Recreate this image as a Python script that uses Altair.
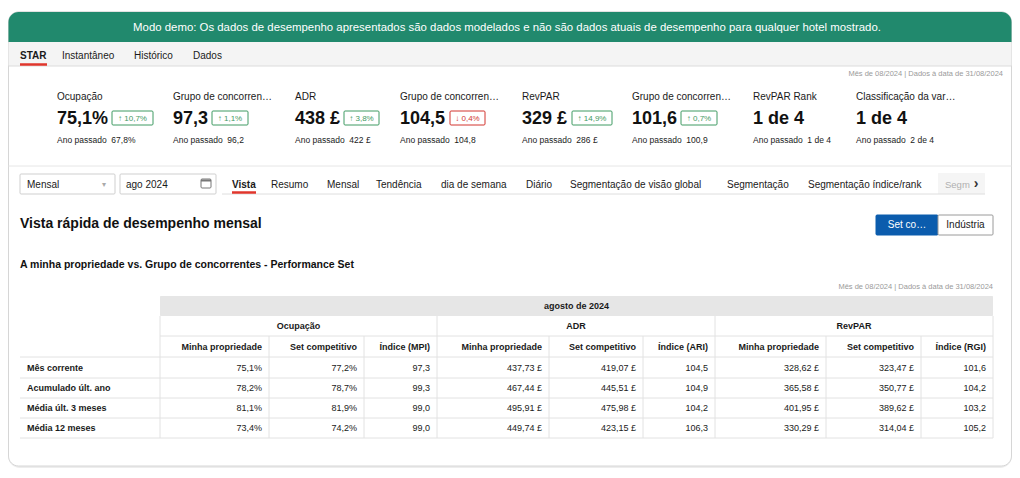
import altair as alt
import pandas as pd

# ------------------------------------------------------------------ data
banner_text = ("Modo demo: Os dados de desempenho apresentados são dados modelados e não são "
               "dados atuais de desempenho para qualquer hotel mostrado.")
top_tabs = ["STAR", "Instantâneo", "Histórico", "Dados"]
date_note = "Mês de 08/2024 | Dados à data de 31/08/2024"

kpi_labels = ["Ocupação", "Grupo de concorren…", "ADR", "Grupo de concorren…",
              "RevPAR", "Grupo de concorren…", "RevPAR Rank", "Classificação da var…"]
kpi_values = ["75,1%", "97,3", "438 £", "104,5", "329 £", "101,6", "1 de 4", "1 de 4"]
kpi_change = [10.7, 1.1, 3.8, -0.4, 14.9, 0.7]
kpi_last_year = ["67,8%", "96,2", "422 £", "104,8", "286 £", "100,9", "1 de 4", "2 de 4"]

period_options = ["Mensal", "ago 2024"]
view_tabs = ["Vista", "Resumo", "Mensal", "Tendência", "dia de semana", "Diário",
             "Segmentação de visão global", "Segmentação", "Segmentação índice/rank", "Segm"]
page_title = "Vista rápida de desempenho mensal"
toggle_labels = ["Set co…", "Indústria"]
table_title = "A minha propriedade vs. Grupo de concorrentes - Performance Set"
table_period = "agosto de 2024"
metric_groups = ["Ocupação", "ADR", "RevPAR"]
column_labels = ["Minha propriedade", "Set competitivo", "Índice (MPI)",
                 "Minha propriedade", "Set competitivo", "Índice (ARI)",
                 "Minha propriedade", "Set competitivo", "Índice (RGI)"]
row_labels = ["Mês corrente", "Acumulado últ. ano", "Média últ. 3 meses", "Média 12 meses"]

occ_mine = [75.1, 78.2, 81.1, 73.4]
occ_comp = [77.2, 78.7, 81.9, 74.2]
occ_index = [97.3, 99.3, 99.0, 99.0]
adr_mine = [437.73, 467.44, 495.91, 449.74]
adr_comp = [419.07, 445.51, 475.98, 423.15]
adr_index = [104.5, 104.9, 104.2, 106.3]
rev_mine = [328.62, 365.58, 401.95, 330.29]
rev_comp = [323.47, 350.77, 389.62, 314.04]
rev_index = [101.6, 104.2, 103.2, 105.2]

# ------------------------------------------------------------------ layout / style
FONT = "Liberation Sans"
GREEN = "#21896d"
DARK = "#1a1a1a"
GRID = "#e2e2e2"

kpi_x = [57, 173, 295, 400, 522, 632, 753, 856]
badge_x = [(112, 153), (212, 248), (344, 379), (450, 485), (572, 612), (681, 717)]
top_tab_x = [20, 62, 134, 193]
view_tab_x = [232, 271, 327, 376, 441, 526, 570, 727, 808, 945]
col_edges = [160, 269, 364, 437, 549, 643, 715, 826, 921, 993]
row_edges = [357, 378, 398, 418, 438]

fmt_num = lambda v, d: f"{v:.{d}f}".replace(".", ",")
table_cols = [
    [fmt_num(v, 1) + "%" for v in occ_mine], [fmt_num(v, 1) + "%" for v in occ_comp],
    [fmt_num(v, 1) for v in occ_index],
    [fmt_num(v, 2) + " £" for v in adr_mine], [fmt_num(v, 2) + " £" for v in adr_comp],
    [fmt_num(v, 1) for v in adr_index],
    [fmt_num(v, 2) + " £" for v in rev_mine], [fmt_num(v, 2) + " £" for v in rev_comp],
    [fmt_num(v, 1) for v in rev_index],
]

X = alt.Scale(domain=[8, 1012], nice=False, zero=False)
Y = alt.Scale(domain=[8, 470], nice=False, zero=False, reverse=True)

# ------------------------------------------------------------------ rectangles
rects = []
def rect(x, x2, y, y2, fill, stroke="#ffffff", sw=0):
    rects.append(dict(x=x, x2=x2, y=y, y2=y2, fill=fill, stroke=stroke, sw=sw))

rect(8.5, 1011.5, 42, 66, "#f4f4f4")                 # tab bar
rect(20, 115, 174, 194, "#ffffff", "#cfcfcf", 1)     # dropdown
rect(120, 216, 174, 194, "#ffffff", "#cfcfcf", 1)    # date box
rect(201, 211, 179, 188, "#ffffff", "#777777", 1)    # calendar icon
rect(938, 985, 173, 194, "#f5f5f5")                  # fade behind "Segm"
rect(876, 938, 215, 235, "#0b5cad", "#0b5cad", 1)    # toggle on
rect(938, 993, 215, 235, "#ffffff", "#9a9a9a", 1)    # toggle off
rect(160, 993, 296, 316, "#e6e6e6")                  # table period band
for i, ch in enumerate(kpi_change):
    col = "#3f9a63" if ch >= 0 else "#d2352e"
    rect(badge_x[i][0], badge_x[i][1], 111, 125, "#ffffff", col, 1)
rect_df = pd.DataFrame(rects)

def enc_rect(ch):
    return ch.encode(
        x=alt.X("x:Q", scale=X, axis=None), x2="x2:Q",
        y=alt.Y("y:Q", scale=Y, axis=None), y2="y2:Q",
        fill=alt.Fill("fill:N", scale=None),
        stroke=alt.Stroke("stroke:N", scale=None),
        strokeWidth=alt.StrokeWidth("sw:Q", scale=None),
    )

shadow = enc_rect(alt.Chart(pd.DataFrame([dict(x=8, x2=1012, y=11, y2=468, fill="#ededed", stroke="#ededed", sw=0)]))
                  .mark_rect(cornerRadius=12))
card = enc_rect(alt.Chart(pd.DataFrame([dict(x=8.5, x2=1011.5, y=12, y2=466, fill="#ffffff", stroke="#d6d6d6", sw=1)]))
                .mark_rect(cornerRadius=10))
banner = enc_rect(alt.Chart(pd.DataFrame([dict(x=8.5, x2=1011.5, y=12, y2=42, fill=GREEN, stroke=GREEN, sw=0)]))
                  .mark_rect(cornerRadiusTopLeft=10, cornerRadiusTopRight=10))
boxes = enc_rect(alt.Chart(rect_df).mark_rect(cornerRadius=1))

# ------------------------------------------------------------------ rules
rules = []
def rule(x, x2, y, y2, color=GRID, sw=1):
    rules.append(dict(x=x, x2=x2, y=y, y2=y2, color=color, sw=sw))

rule(8.5, 1011.5, 66, 66, "#dcdcdc")
rule(8.5, 1011.5, 166, 166, "#e6e6e6")
rule(20, 47, 64.5, 64.5, "#e0362c", 2.5)             # STAR underline
rule(222, 985, 194, 194, "#dedede")
rule(232, 256, 192.5, 192.5, "#e0362c", 2.5)         # Vista underline
rule(201, 211, 180.5, 180.5, "#777777", 2)           # calendar top
rule(160, 993, 336, 336)
for ye in row_edges:
    rule(20, 993, ye, ye)
rule(160, 160, 316, 438)
rule(993, 993, 316, 438)
for xe in [col_edges[3], col_edges[6]]:
    rule(xe, xe, 316, 438)
for xe in [col_edges[1], col_edges[2], col_edges[4], col_edges[5], col_edges[7], col_edges[8]]:
    rule(xe, xe, 336, 438)
rule_df = pd.DataFrame(rules)
lines = alt.Chart(rule_df).mark_rule().encode(
    x=alt.X("x:Q", scale=X, axis=None), x2="x2:Q",
    y=alt.Y("y:Q", scale=Y, axis=None), y2="y2:Q",
    color=alt.Color("color:N", scale=None),
    strokeWidth=alt.StrokeWidth("sw:Q", scale=None),
)

# ------------------------------------------------------------------ texts
texts = {}
def txt(x, y, s, size, color=DARK, align="left", bold=False):
    texts.setdefault((align, bold), []).append(dict(x=x, y=y, t=s, fs=size, c=color))

txt(507, 27.5, banner_text, 11.4, "#ffffff", "center")
for i, t in enumerate(top_tabs):
    txt(top_tab_x[i], 56, t, 10, DARK, "left", i == 0)
txt(1003, 74, date_note, 7.5, "#9a9a9a", "right")

for i in range(8):
    txt(kpi_x[i], 97, kpi_labels[i], 10, DARK)
    txt(kpi_x[i], 118.5, kpi_values[i], 18, "#111111", "left", True)
    txt(kpi_x[i], 139.5, "Ano passado\u00a0\u00a0" + kpi_last_year[i], 8.5, DARK)
for i, ch in enumerate(kpi_change):
    col = "#3f9a63" if ch >= 0 else "#d2352e"
    arrow = "↑" if ch >= 0 else "↓"
    txt((badge_x[i][0] + badge_x[i][1]) / 2, 118.5, f"{arrow} {fmt_num(abs(ch), 1)}%", 8, col, "center")

txt(27, 184.5, period_options[0], 10, DARK)
txt(104, 185, "▾", 8, "#aaaaaa", "center")
txt(126, 184.5, period_options[1], 10, DARK)
for i, t in enumerate(view_tabs):
    color = "#b0b0b0" if i == len(view_tabs) - 1 else DARK
    size = 9.5 if i == len(view_tabs) - 1 else 10
    txt(view_tab_x[i], 184.5, t, size, color, "left", i == 0)
txt(976, 184, "›", 14, "#333333", "center", True)

txt(20, 224, page_title, 14, "#111111", "left", True)
txt(907, 225, toggle_labels[0], 10, "#ffffff", "center")
txt(965.5, 225, toggle_labels[1], 10, DARK, "center")
txt(20, 265, table_title, 10.5, "#111111", "left", True)
txt(993, 287, date_note, 7.5, "#9a9a9a", "right")

txt((col_edges[0] + col_edges[-1]) / 2, 306, table_period, 9, DARK, "center", True)
for g in range(3):
    txt((col_edges[3 * g] + col_edges[3 * g + 3]) / 2, 326, metric_groups[g], 9, DARK, "center", True)
for c in range(9):
    txt(col_edges[c + 1] - 7, 347, column_labels[c], 9, DARK, "right", True)
for r in range(4):
    yc = (row_edges[r] + row_edges[r + 1]) / 2
    txt(27, yc, row_labels[r], 9, DARK, "left", True)
    for c in range(9):
        txt(col_edges[c + 1] - 7, yc, table_cols[c][r], 9, DARK, "right")

text_layers = []
for (align, bold), rows in texts.items():
    text_layers.append(
        alt.Chart(pd.DataFrame(rows)).mark_text(
            align=align, baseline="middle", font=FONT, fontWeight="bold" if bold else "normal"
        ).encode(
            x=alt.X("x:Q", scale=X, axis=None),
            y=alt.Y("y:Q", scale=Y, axis=None),
            text="t:N",
            size=alt.Size("fs:Q", scale=None),
            color=alt.Color("c:N", scale=None),
        )
    )

chart = alt.layer(shadow, card, banner, boxes, lines, *text_layers).properties(
    width=1004, height=462, autosize=alt.AutoSizeParams(type="none"), padding=0,
    background="#ffffff",
).configure_view(stroke=None)

chart.save("out.html", embed_options={"renderer": "svg", "actions": False})
